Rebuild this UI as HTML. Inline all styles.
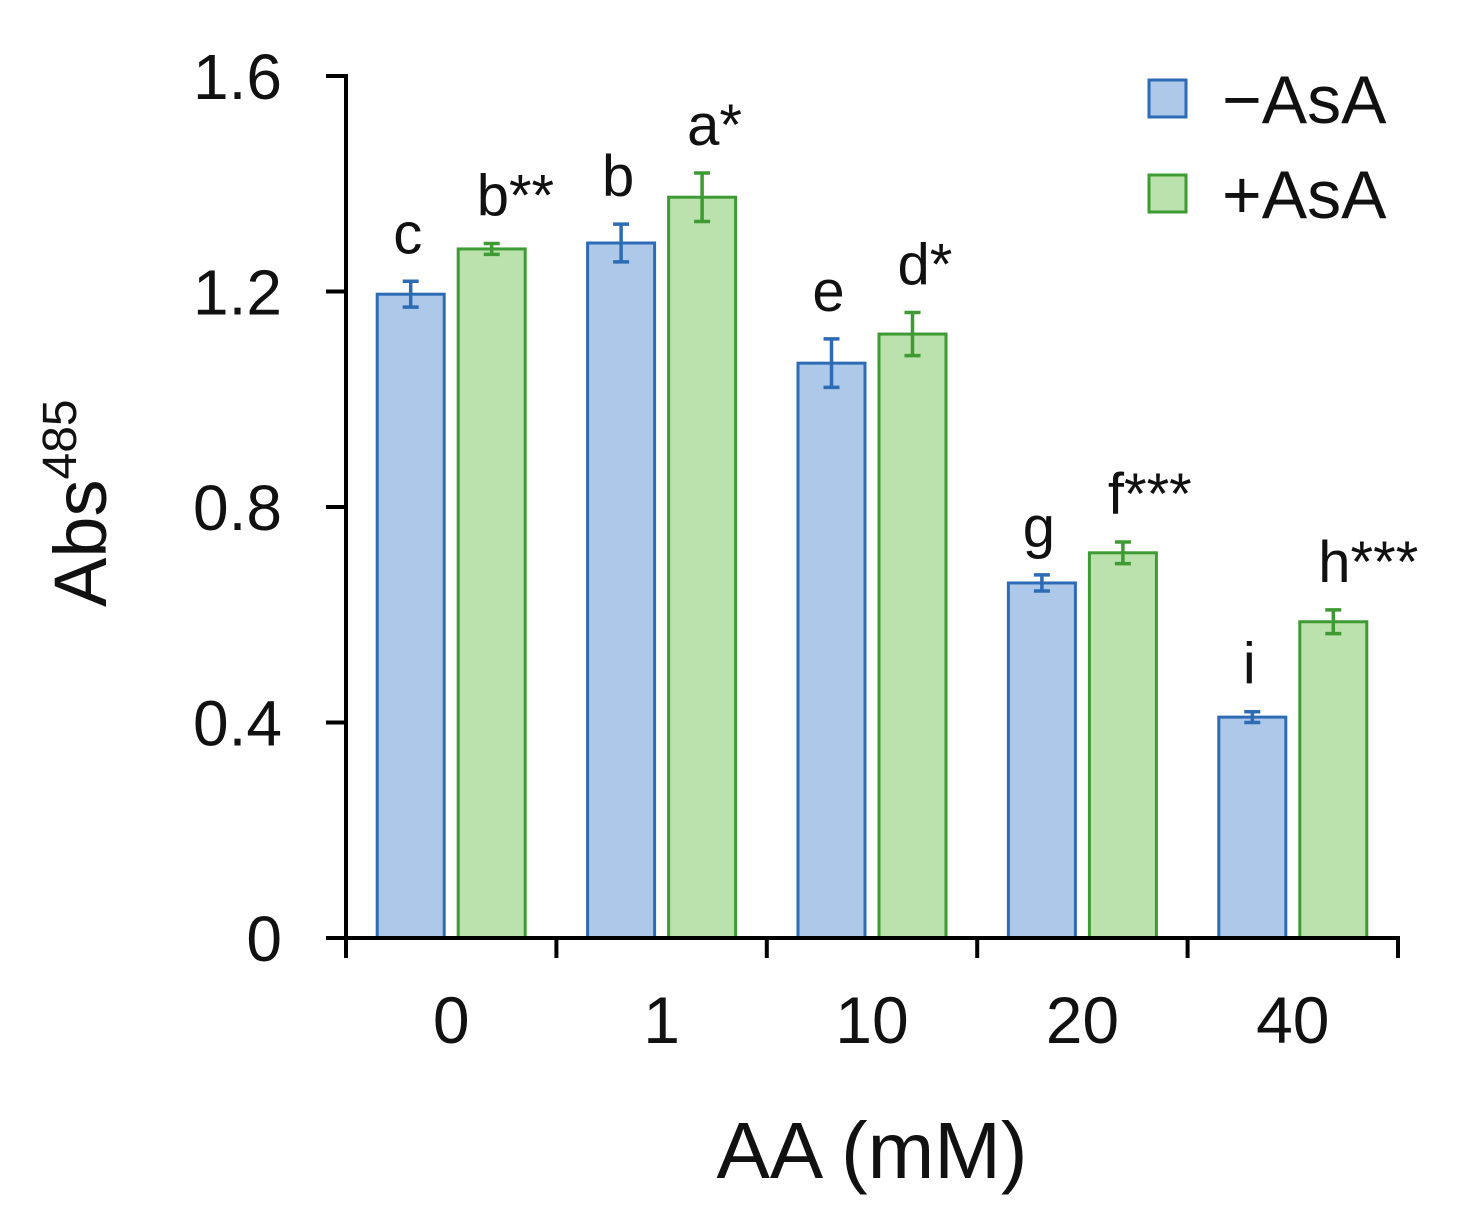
<!DOCTYPE html>
<html><head><meta charset="utf-8"><style>
html,body{margin:0;padding:0;background:#fff;}
svg{display:block;font-family:"Liberation Sans",Arial,sans-serif;}
</style></head><body>
<svg id="chart" width="1467" height="1230" viewBox="0 0 1467 1230">
<g id="plot"></g>
</svg>
<script>
const categories = ["0","1","10","20","40"];
const minusAsA = [1.195, 1.29, 1.067, 0.659, 0.41];
const plusAsA = [1.279, 1.375, 1.121, 0.715, 0.587];
const minusErr = [0.024, 0.035, 0.045, 0.015, 0.01];
const plusErr = [0.01, 0.045, 0.04, 0.02, 0.022];
const minusLetters = ["c","b","e","g","i"];
const plusLetters = ["b**","a*","d*","f***","h***"];
const yTicks = [0, 0.4, 0.8, 1.2, 1.6];
const yTickLabels = ["0","0.4","0.8","1.2","1.6"];

const NS="http://www.w3.org/2000/svg";
const g=document.getElementById('plot');
const x0=346,x1=1398,yBase=938,yTop=76,yMax=1.6;
const Y=v=>yBase-(v/yMax)*(yBase-yTop);
const catW=(x1-x0)/categories.length;
const barW=67;
function el(tag,attrs,text){const e=document.createElementNS(NS,tag);for(const k in attrs)e.setAttribute(k,attrs[k]);if(text!==undefined)e.textContent=text;g.appendChild(e);return e;}
const series=[{v:minusAsA,e:minusErr,l:minusLetters,fill:"#aec8e9",stroke:"#2d6cb5",off:-barW/2-7,name:"minus-asa"},
{v:plusAsA,e:plusErr,l:plusLetters,fill:"#bbe1ad",stroke:"#3e9a33",off:barW/2+7,name:"plus-asa"}];
categories.forEach((c,i)=>{
  const cx=x0+catW*(i+0.5);
  series.forEach(s=>{
    const bx=cx+s.off-barW/2, top=Y(s.v[i]);
    const r=el('rect',{x:bx,y:top,width:barW,height:yBase-top,fill:s.fill,stroke:s.stroke,'stroke-width':3});
    
    
    const mx=bx+barW/2, ya=Y(s.v[i]+s.e[i]), yb=Y(s.v[i]-s.e[i]);
    const eb=el('path',{d:`M${mx},${ya}V${yb}M${mx-8},${ya}H${mx+8}M${mx-8},${yb}H${mx+8}`,stroke:s.stroke,'stroke-width':3.5,fill:'none'});
    
    
    const isPlus=s.name==="plus-asa";
    const t=el('text',{x:isPlus?mx-15:mx-3,y:ya-28,'font-size':58,'text-anchor':isPlus?'start':'middle',fill:'#111'},s.l[i]);
    
    
  });
  const tl=el('text',{x:cx,y:1043,'font-size':66,'text-anchor':'middle',fill:'#111'},c);
  
  
});
for(let i=0;i<=categories.length;i++){
  const tx=x0+catW*i;
  const tk=el('line',{x1:tx,x2:tx,y1:yBase,y2:yBase+20,stroke:'#000','stroke-width':4});
  
  
}
yTicks.forEach((v,i)=>{
  const yy=Y(v);
  const tk=el('line',{x1:x0-20,x2:x0,y1:yy,y2:yy,stroke:'#000','stroke-width':4});
  
  
  const tl=el('text',{x:282,y:yy+23,'font-size':64,'text-anchor':'end',fill:'#111'},yTickLabels[i]);
  
  
});
const ya=el('line',{x1:x0,x2:x0,y1:yTop-2,y2:yBase+2,stroke:'#000','stroke-width':4});


const xa=el('line',{x1:x0-20,x2:x1+2,y1:yBase,y2:yBase,stroke:'#000','stroke-width':4});


const xt=el('text',{x:872,y:1178,'font-size':80,'text-anchor':'middle',fill:'#111'},'AA (mM)');


const yt=el('text',{transform:'translate(106,607) rotate(-90)','font-size':74,fill:'#111'});


yt.innerHTML='Abs<tspan font-size="48" dy="-30">485</tspan>';
[["−AsA",0],["+AsA",1]].forEach(([lab,i])=>{
  const s=series[i], ly=80+i*95;
  const sq=el('rect',{x:1149,y:ly,width:37,height:37,fill:s.fill,stroke:s.stroke,'stroke-width':3});
  
  
  const lt=el('text',{x:1222,y:ly+43,'font-size':68,fill:'#111'},lab);
  
  
});
</script>
</body></html>
